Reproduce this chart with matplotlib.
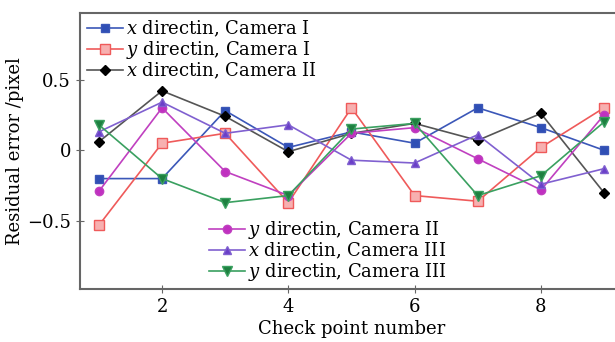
import matplotlib.pyplot as plt

# dati
punti = [1, 2, 3, 4, 5, 6, 7, 8, 9]
x_cam1 = [-0.20, -0.20, 0.28, 0.02, 0.13, 0.05, 0.30, 0.16, 0.00]
y_cam1 = [-0.53, 0.05, 0.12, -0.37, 0.30, -0.32, -0.36, 0.02, 0.30]
x_cam2 = [0.06, 0.42, 0.24, -0.01, 0.12, 0.19, 0.07, 0.26, -0.30]
y_cam2 = [-0.29, 0.30, -0.15, -0.32, 0.12, 0.16, -0.06, -0.28, 0.25]
x_cam3 = [0.13, 0.34, 0.12, 0.18, -0.07, -0.09, 0.11, -0.24, -0.13]
y_cam3 = [0.18, -0.20, -0.37, -0.32, 0.15, 0.19, -0.32, -0.18, 0.20]

etichette = ['$x$ directin, Camera I', '$y$ directin, Camera I', '$x$ directin, Camera II',
             '$y$ directin, Camera II', '$x$ directin, Camera III', '$y$ directin, Camera III']

plt.rcParams['font.family'] = 'DejaVu Serif'
plt.rcParams['mathtext.fontset'] = 'dejavuserif'

fig = plt.figure(figsize=(6.15, 3.42), dpi=100)
ax = fig.add_axes([0.13, 0.155, 0.883, 0.807])

l1, = ax.plot(punti, x_cam1, '-s', color='#3b57b8', mfc='#2f4fb5', ms=6, lw=1.2)
l2, = ax.plot(punti, y_cam1, '-s', color='#ef5a5a', mfc='#f7b0b0', mec='#ef5a5a', ms=7, lw=1.2)
l3, = ax.plot(punti, x_cam2, '-D', color='#555555', mfc='black', mec='black', ms=5, lw=1.2)
l4, = ax.plot(punti, y_cam2, '-o', color='#c040c0', mfc='#c030c0', ms=6, lw=1.2)
l5, = ax.plot(punti, x_cam3, '-^', color='#8060d0', mfc='#6a3fc8', ms=6, lw=1.2)
l6, = ax.plot(punti, y_cam3, '-v', color='#3aa060', mfc='#1e8040', ms=7, lw=1.2)

ax.set_xlim(0.7, 9.3)
ax.set_ylim(-0.98, 0.97)
ax.set_xticks([2, 4, 6, 8])
ax.set_yticks([-0.5, 0, 0.5])
ax.set_yticklabels(['\u22120.5', '0', '0.5'])
ax.tick_params(direction='inout', length=6, labelsize=13, color='#666666')
for s in ax.spines.values():
    s.set_color('#666666')
    s.set_linewidth(1.5)

ax.set_xlabel('Check point number', fontsize=13, labelpad=3)
ax.set_ylabel('Residual error /pixel', fontsize=13, labelpad=2)

leg1 = ax.legend([l1, l2, l3], etichette[:3], loc='upper left', frameon=False, fontsize=13,
                 handlelength=2.0, handletextpad=0.15, labelspacing=0.0, borderaxespad=0.0,
                 bbox_to_anchor=(0.0, 1.005))
ax.add_artist(leg1)
ax.legend([l4, l5, l6], etichette[3:], loc='lower left', frameon=False, fontsize=13,
          handlelength=2.0, handletextpad=0.15, labelspacing=0.0, borderaxespad=0.0,
          bbox_to_anchor=(0.225, -0.005))

plt.savefig('out.png', dpi=100)
